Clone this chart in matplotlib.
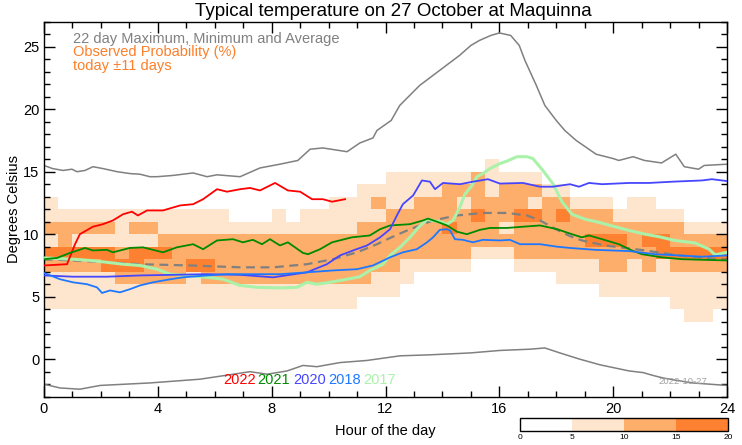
import numpy as np
import matplotlib
matplotlib.use('Agg')
import matplotlib.pyplot as plt
from matplotlib.colors import ListedColormap, BoundaryNorm
from matplotlib.ticker import MultipleLocator

plt.rcParams['font.family'] = ['Liberation Sans', 'DejaVu Sans']

# 22 day maximum / minimum / average
max_h = [0, 0.3, 0.67, 0.98, 1.16, 1.44, 1.72, 2.07, 2.57, 3.02, 3.37, 3.72, 3.97, 4.53, 5.24, 5.73,
         6.08, 6.89, 7.59, 8.29, 8.92, 9.35, 9.8, 10.65, 11.1, 11.56, 11.7, 12.2, 12.5, 13.2, 13.9,
         14.6, 15.0, 15.3, 15.7, 16.0, 16.4, 16.7, 16.9, 17.3, 17.6, 18.0, 18.3, 18.7, 19.4, 20.0,
         20.2, 20.7, 21.1, 21.7, 22.2, 22.5, 23.0, 23.2, 24.0]
max_t = [15.5, 15.25, 15.1, 15.2, 15.0, 15.1, 15.4, 15.25, 15.0, 14.85, 14.8, 14.6, 14.6, 14.7, 14.9, 14.6,
         14.75, 14.6, 15.3, 15.6, 15.9, 16.8, 16.9, 16.6, 17.3, 17.7, 18.3, 19.1, 20.3, 21.9, 23.1,
         24.3, 25.1, 25.5, 25.9, 26.1, 25.9, 25.1, 23.9, 21.9, 20.3, 19.1, 18.3, 17.5, 16.4, 16.05,
         15.9, 16.2, 15.9, 15.7, 16.4, 15.4, 15.2, 15.5, 15.6]
min_h = [0, 0.56, 1.26, 1.97, 3.72, 5.48, 7.24, 7.84, 8.54, 9.1, 9.59, 10.4, 11.35, 12.51, 13.56, 14.97,
         16.02, 17.08, 17.6, 18.13, 18.83, 19.54, 20.56, 21.05, 21.4, 21.75, 22.24, 22.8, 24.0]
min_t = [-2.0, -2.3, -2.4, -2.1, -1.9, -1.6, -1.0, -1.2, -0.94, -0.5, -0.6, -0.27, -0.1, 0.27, 0.35, 0.5,
         0.7, 0.8, 0.9, 0.5, 0.0, -0.45, -0.94, -1.07, -1.3, -1.5, -1.7, -1.9, -2.1]
avg_h = [0, 1.02, 2.21, 3.37, 5.13, 6.89, 8.05, 9.24, 10.15, 11.0, 11.7, 12.16, 12.86, 13.67, 14.51,
         15.42, 16.27, 16.97, 17.43, 18.03, 18.48, 18.9, 19.71, 21.12, 22.31, 23.72, 24.0]
avg_t = [8.0, 7.9, 7.75, 7.6, 7.5, 7.35, 7.35, 7.6, 8.0, 8.55, 9.2, 9.7, 10.4, 11.1, 11.5,
         11.7, 11.7, 11.5, 11.1, 10.35, 9.85, 9.5, 9.1, 8.7, 8.3, 8.0, 7.95]

# individual years
y2022_h = [0, 0.81, 1.09, 1.26, 1.72, 2.07, 2.42, 2.78, 3.09, 3.30, 3.62, 4.18, 4.78, 5.24, 5.59, 6.08,
           6.43, 6.89, 7.24, 7.59, 8.12, 8.57, 9.0, 9.42, 9.80, 10.12, 10.58]
y2022_t = [7.5, 7.6, 9.2, 10.0, 10.6, 10.8, 11.1, 11.6, 11.8, 11.5, 11.9, 11.9, 12.3, 12.4, 12.8, 13.6,
           13.4, 13.6, 13.7, 13.5, 14.1, 13.5, 13.4, 12.8, 12.8, 12.6, 12.8]
y2021_h = [0, 0.46, 0.91, 1.44, 1.72, 2.21, 2.42, 3.02, 3.48, 3.83, 4.18, 4.67, 5.24, 5.59, 6.08, 6.64,
           6.99, 7.34, 7.66, 7.94, 8.29, 8.57, 9.1, 9.28, 9.70, 10.12, 10.82, 11.45, 11.81, 12.16, 12.86,
           13.32, 13.49, 13.81, 14.16, 14.51, 14.86, 15.32, 15.67, 16.27, 16.83, 17.43, 18.03, 18.55,
           18.9, 19.15, 19.61, 20.2, 20.66, 21.01, 21.71, 22.42, 24.0]
y2021_t = [8.0, 8.1, 8.5, 8.9, 8.7, 8.75, 8.55, 8.9, 8.95, 8.75, 8.55, 8.95, 9.2, 8.8, 9.5, 9.6,
           9.35, 9.55, 9.2, 9.6, 9.1, 9.35, 8.5, 8.4, 8.8, 9.35, 9.75, 9.9, 10.4, 10.7, 10.8,
           11.1, 11.25, 11.0, 10.7, 10.2, 10.0, 10.35, 10.5, 10.5, 10.6, 10.7, 10.4, 10.0,
           9.75, 9.9, 9.6, 9.2, 8.7, 8.4, 8.15, 8.0, 7.9]
y2020_h = [0, 1.02, 2.21, 3.37, 4.53, 5.73, 6.89, 8.05, 9.24, 9.94, 10.4, 10.86, 11.35, 11.81, 12.16,
           12.4, 12.61, 12.97, 13.28, 13.56, 13.74, 14.02, 14.62, 15.07, 15.6, 16.02, 16.83, 17.43,
           17.88, 18.48, 18.8, 19.15, 19.61, 20.56, 21.26, 22.07, 23.12, 23.47, 24.0]
y2020_t = [6.7, 6.6, 6.6, 6.7, 6.75, 6.8, 6.75, 6.55, 6.95, 7.6, 8.3, 8.7, 9.1, 9.75, 10.4,
           11.5, 12.4, 13.1, 14.3, 14.2, 13.6, 14.1, 14.0, 14.2, 14.4, 14.05, 14.1, 13.8,
           13.8, 14.0, 13.8, 14.1, 14.0, 14.1, 14.1, 14.2, 14.3, 14.4, 14.25]
y2018_h = [0, 0.56, 1.02, 1.51, 1.86, 2.04, 2.32, 2.67, 3.02, 3.37, 3.83, 4.32, 4.88, 5.73, 6.43, 7.48,
           8.29, 9.24, 10.15, 11.0, 11.56, 12.16, 12.61, 13.1, 13.46, 13.67, 13.91, 14.16, 14.27,
           14.44, 14.72, 15.07, 15.42, 16.02, 16.37, 16.73, 17.43, 18.03, 18.48, 19.36, 20.56, 21.47,
           22.31, 23.12, 24.0]
y2018_t = [6.9, 6.4, 6.15, 6.0, 5.75, 5.3, 5.5, 5.35, 5.6, 5.9, 6.15, 6.35, 6.55, 6.7, 6.8, 6.8,
           6.8, 6.95, 7.1, 7.2, 7.5, 8.15, 8.55, 8.8, 9.35, 9.75, 10.35, 10.4, 10.3,
           9.6, 9.55, 9.35, 9.55, 9.5, 9.55, 9.2, 9.2, 9.0, 8.9, 8.75, 8.65, 8.4,
           8.3, 8.2, 8.3]
y2017_h = [0, 1.02, 1.62, 2.21, 2.78, 3.37, 3.97, 4.43, 5.02, 5.73, 6.29, 6.89, 7.48, 8.29, 8.89, 9.24,
           9.59, 10.05, 10.65, 11.1, 11.45, 11.91, 12.16, 12.51, 12.86, 13.14, 13.46, 13.63, 13.91,
           14.16, 14.37, 14.62, 14.79, 15.04, 15.21, 15.42, 15.67, 16.02, 16.27, 16.62, 16.97, 17.18,
           17.53, 17.88, 18.2, 18.55, 19.01, 19.5, 20.06, 20.56, 21.12, 21.61, 22.17, 22.87, 23.37,
           23.58, 24.0]
y2017_t = [8.1, 8.0, 7.9, 7.75, 7.6, 7.5, 7.2, 6.8, 6.7, 6.55, 6.4, 5.9, 5.75, 5.7, 5.75, 6.15,
           6.0, 6.15, 6.4, 6.6, 7.1, 7.6, 8.3, 8.95, 9.75, 10.5, 11.2, 11.1, 11.0,
           10.8, 11.1, 12.2, 13.2, 13.9, 14.6, 14.85, 15.25, 15.65, 15.85, 16.2, 16.2, 16.05,
           15.1, 14.05, 12.6, 11.6, 11.2, 10.95, 10.6, 10.3, 10.0, 9.8, 9.5, 9.3, 8.8,
           8.35, 8.55]

years = ['2022', '2021', '2020', '2018', '2017']
year_colors = ['#ff0000', '#008a00', '#4646ff', '#1e78ff', '#aaf2aa']

# observed probability class (0: <5%, 1: 5-10, 2: 10-15, 3: 15-20)
# one string per half hour, characters are 1 degree bins from 3 C upward
prob_cols = [
    "01112312110000", "01112322100000", "01112312100000", "01112312100000",
    "01113312100000", "01123211100000", "01123312100000", "01122312100000",
    "01122321100000", "01122221100000", "01113221100000", "01123221100000",
    "01122221100000", "01122221000000", "01122221000000", "01122221000000",
    "01122221100000", "01122221000000", "01122221100000", "01122221100000",
    "01122221110000", "01122221110000", "00122222111000", "00112222121000",
    "00112222211100", "00011222211100", "00001222221100", "00001222221100",
    "00001223222100", "00001222212100", "00000122322200", "00000122221110",
    "00000121222100", "00001222322100", "00001222312100", "00001222221000",
    "00011222321000", "00011222210000", "00011232210000", "00112232210000",
    "00112232100000", "00111222110000", "00112232110000", "00111332100000",
    "01112322100000", "11112321000000", "11112321000000", "01112321000000",
]
prob_pct = [0, 7.5, 12.5, 17.5]
prob_colors = ['#ffffff', '#fee6ce', '#fdae6b', '#fd8130']

W, H = 742, 445
fig = plt.figure(figsize=(W / 100, H / 100), dpi=100)
ax = fig.add_axes([44 / W, 1 - 396.7 / H, 683 / W, 375 / H])

grid = np.array([[prob_pct[int(c)] for c in col] for col in prob_cols]).T
xe = np.arange(0, 24.01, 0.5)
ye = np.arange(3, 3 + grid.shape[0] + 1)
cmap = ListedColormap(prob_colors)
norm = BoundaryNorm([0, 5, 10, 15, 20], cmap.N)
mesh = ax.pcolormesh(xe, ye, grid, cmap=cmap, norm=norm, zorder=0)

ax.plot(max_h, max_t, color='#808080', lw=1.1, zorder=2)
ax.plot(min_h, min_t, color='#808080', lw=1.1, zorder=2)
ax.plot(avg_h, avg_t, color='#808080', lw=1.6, ls=(0, (4, 2.5)), zorder=2)

series = [(y2022_h, y2022_t), (y2021_h, y2021_t), (y2020_h, y2020_t), (y2018_h, y2018_t), (y2017_h, y2017_t)]
for (hh, tt), c, yr in zip(series, year_colors, years):
    if yr == '2017':
        ax.plot(hh, tt, color=c, lw=2.2, zorder=3)
    else:
        ax.plot(hh, tt, color=c, lw=1.3, zorder=4)

ax.set_xlim(0, 24)
ax.set_ylim(-3, 27)
ax.xaxis.set_major_locator(MultipleLocator(4))
ax.xaxis.set_minor_locator(MultipleLocator(1))
ax.yaxis.set_major_locator(MultipleLocator(5))
ax.yaxis.set_minor_locator(MultipleLocator(1))
ax.tick_params(which='both', direction='in', top=True, right=True, labelsize=10.5, width=1)
ax.tick_params(which='major', length=8)
ax.tick_params(which='minor', length=4.5)
for s in ax.spines.values():
    s.set_linewidth(1)
ax.set_xlabel('Hour of the day', fontsize=10.5, labelpad=6)
ax.set_ylabel('Degrees Celsius', fontsize=10.5, labelpad=1)

fig.text(393 / W, 1 - 12 / H, 'Typical temperature on 27 October at Maquinna', ha='center', va='center', fontsize=13.5)
fig.text(73 / W, 1 - 38.5 / H, '22 day Maximum, Minimum and Average', color='#808080', va='center', fontsize=10.5)
fig.text(73 / W, 1 - 52 / H, 'Observed Probability (%)', color='#fd7f2a', va='center', fontsize=10.5)
fig.text(73 / W, 1 - 66 / H, 'today \u00b111 days', color='#fd7f2a', va='center', fontsize=10.5)

year_x = [223, 257, 293, 328, 363]
for x, yr, c in zip(year_x, years, year_colors):
    fig.text(x / W, 1 - 380 / H, yr, color=c, va='center', fontsize=10.5)

fig.text(683 / W, 1 - 382 / H, '2022-10-27', color='#a0a0a0', ha='center', va='center', fontsize=6.8)

cax = fig.add_axes([520 / W, 1 - 431 / H, 208 / W, 13.3 / H])
cb = fig.colorbar(mesh, cax=cax, orientation='horizontal', ticks=[0, 5, 10, 15, 20])
cb.outline.set_linewidth(1)
cax.tick_params(length=0, labelsize=6, pad=2)

fig.savefig('out.png', dpi=100)
